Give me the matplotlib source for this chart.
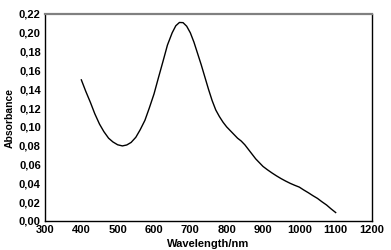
import matplotlib.pyplot as plt
from matplotlib.ticker import FuncFormatter

wavelength = [400, 412, 425, 437, 450, 462, 475, 487, 500, 513, 525, 537, 550, 562, 575,
              587, 600, 612, 625, 637, 650, 660, 670, 680, 690, 700, 710, 720, 730, 740,
              750, 760, 770, 780, 790, 800, 810, 820, 830, 840, 850, 860, 870, 880, 890,
              900, 912, 925, 937, 950, 962, 975, 987, 1000, 1012, 1025, 1037, 1050, 1062,
              1075, 1087, 1100]
absorbance = [0.150, 0.138, 0.126, 0.114, 0.103, 0.095, 0.088, 0.084, 0.081, 0.0798, 0.0808,
              0.0835, 0.089, 0.097, 0.107, 0.120, 0.135, 0.152, 0.170, 0.187, 0.200, 0.2075,
              0.211, 0.2108, 0.207, 0.200, 0.190, 0.178, 0.166, 0.153, 0.140, 0.128, 0.118,
              0.111, 0.105, 0.100, 0.096, 0.092, 0.088, 0.085, 0.081, 0.076, 0.071, 0.066,
              0.062, 0.058, 0.0545, 0.051, 0.048, 0.045, 0.0425, 0.040, 0.038, 0.036, 0.033,
              0.030, 0.027, 0.024, 0.0205, 0.017, 0.013, 0.009]

x_ticks = [300, 400, 500, 600, 700, 800, 900, 1000, 1100, 1200]
y_ticks = [0.00, 0.02, 0.04, 0.06, 0.08, 0.10, 0.12, 0.14, 0.16, 0.18, 0.20, 0.22]

plt.rcParams['font.family'] = 'Liberation Sans'

fig = plt.figure(figsize=(3.91, 2.5), dpi=100)
ax = fig.add_axes([0.1151, 0.116, 0.8363, 0.828])

ax.plot(wavelength, absorbance, color='black', linewidth=1.0)

ax.set_xlim(300, 1200)
ax.set_ylim(0, 0.22)
ax.set_xticks(x_ticks)
ax.set_yticks(y_ticks)
ax.yaxis.set_major_formatter(FuncFormatter(lambda v, p: f'{v:.2f}'.replace('.', ',')))
ax.tick_params(length=0, labelsize=8, pad=3)
for lbl in ax.get_xticklabels() + ax.get_yticklabels():
    lbl.set_fontweight('bold')

ax.set_xlabel('Wavelength/nm', fontsize=8, fontweight='bold', labelpad=3)
ax.set_ylabel('Absorbance', fontsize=7.5, fontweight='bold', labelpad=3)

for side in ['left', 'bottom', 'right']:
    ax.spines[side].set_color('black')
    ax.spines[side].set_linewidth(1.0)
ax.spines['top'].set_color('#808080')
ax.spines['top'].set_linewidth(1.6)

fig.savefig('out.png', dpi=100)
